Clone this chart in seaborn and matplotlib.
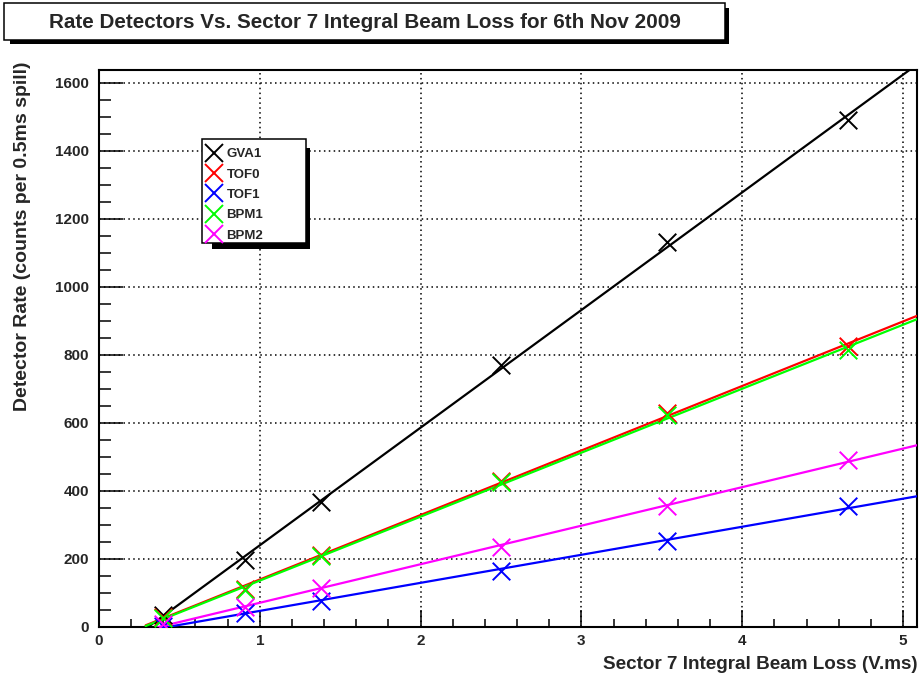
import numpy as np
import pandas as pd
import matplotlib
matplotlib.use("Agg")
import matplotlib.pyplot as plt
import seaborn as sns
from matplotlib.patches import Rectangle
from matplotlib.lines import Line2D
from matplotlib.ticker import MultipleLocator

# ---- data ----
beam_loss = [0.40, 0.91, 1.38, 2.50, 3.53, 4.66]
gva1 = [35, 197, 369, 771, 1133, 1490]
tof0 = [30, 112, 211, 430, 630, 825]
tof1 = [4, 41, 75, 165, 252, 356]
bpm1 = [26, 110, 208, 425, 623, 815]
bpm2 = [9, 59, 114, 235, 356, 491]

detectors = ["GVA1", "TOF0", "TOF1", "BPM1", "BPM2"]
series = [gva1, tof0, tof1, bpm1, bpm2]
colors = ["#000000", "#ff0000", "#0000ff", "#00ff00", "#ff00ff"]

title = "Rate Detectors Vs. Sector 7 Integral Beam Loss for 6th Nov 2009"
xlabel = "Sector 7 Integral Beam Loss (V.ms)"
ylabel = "Detector Rate (counts per 0.5ms spill)"

sns.set_theme(style="ticks")
plt.rcParams["font.family"] = ["Liberation Sans", "DejaVu Sans"]
plt.rcParams["font.weight"] = "bold"

W, H = 923, 681
fig = plt.figure(figsize=(W / 100, H / 100), dpi=100)
fig.patch.set_facecolor("white")
ax = fig.add_axes([99 / W, 1 - 627 / H, (917 - 99) / W, (627 - 70) / H])
ax.set_facecolor("white")

xmin, xmax = 0, 5.087
ymin, ymax = 0, 1638

# long-form tables
pts = pd.DataFrame(
    [(d, x, y) for d, s in zip(detectors, series) for x, y in zip(beam_loss, s)],
    columns=["detector", "loss", "rate"],
)
xfit = np.linspace(0.29, xmax, 60)
fit_rows = []
for d, s in zip(detectors, series):
    k, b = np.polyfit(beam_loss, s, 1)
    for x in xfit:
        fit_rows.append((d, x, k * x + b))
fits = pd.DataFrame(fit_rows, columns=["detector", "loss", "rate"])
palette = dict(zip(detectors, colors))

sns.lineplot(data=fits, x="loss", y="rate", hue="detector", palette=palette,
             hue_order=detectors, linewidth=1.6, legend=False, ax=ax,
             zorder=3, sort=False)
for d in detectors:
    sub = pts[pts.detector == d]
    sns.scatterplot(data=sub, x="loss", y="rate", color=palette[d], marker="x",
                    s=160, linewidth=1.4, legend=False, ax=ax, zorder=4)

ax.set_xlim(xmin, xmax)
ax.set_ylim(ymin, ymax)
ax.xaxis.set_major_locator(MultipleLocator(1))
ax.xaxis.set_minor_locator(MultipleLocator(0.2))
ax.yaxis.set_major_locator(MultipleLocator(200))
ax.yaxis.set_minor_locator(MultipleLocator(50))
ax.tick_params(axis="x", which="major", direction="in", length=12, width=1.1,
               labelsize=11, pad=5, color="black", top=False)
ax.tick_params(axis="x", which="minor", direction="in", length=6, width=1.1,
               top=False, color="black")
ax.tick_params(axis="y", which="major", direction="in", length=17.5, width=1.1,
               labelsize=11, pad=7, color="black", right=False)
ax.tick_params(axis="y", which="minor", direction="in", length=8.8, width=1.1,
               right=False, color="black")
for lab in ax.get_xticklabels() + ax.get_yticklabels():
    lab.set_fontweight("bold")
for sp in ax.spines.values():
    sp.set_visible(True)
    sp.set_linewidth(1.5)
    sp.set_color("black")
ax.grid(True, which="major", color="black", linestyle=(0, (1, 2.2)), linewidth=1.1)

ax.set_xlabel(xlabel, fontsize=13.6, fontweight="bold", loc="right")
ax.xaxis.set_label_coords(1.001, -0.052)
ax.set_ylabel(ylabel, fontsize=14.0, fontweight="bold", loc="top")
ax.yaxis.set_label_coords(-0.083, 1.0144)

# ---- legend with shadowed box ----
def fig_rect(x0, y0, x1, y1, **kw):
    return Rectangle((x0 / W, 1 - y1 / H), (x1 - x0) / W, (y1 - y0) / H,
                     transform=fig.transFigure, clip_on=False, **kw)

ax.add_artist(fig_rect(212, 148, 310, 249, facecolor="black", edgecolor="none", zorder=5))
ax.add_artist(fig_rect(202, 139, 306, 243, facecolor="white", edgecolor="black",
                       linewidth=1.1, zorder=5.1))
handles = [Line2D([], [], color=c, marker="x", linestyle="none", markersize=12.5,
                  markeredgewidth=1.4) for c in colors]
leg = ax.legend(handles, detectors, loc="upper left",
                bbox_to_anchor=(206 / W, 1 - 148 / H), bbox_transform=fig.transFigure,
                frameon=False, fontsize=9.5, borderpad=0, borderaxespad=0,
                handlelength=1.25, handletextpad=0.3, labelspacing=0.62)
leg.set_zorder(6)
for t in leg.get_texts():
    t.set_fontweight("bold")

# ---- title box with shadow ----
fig.add_artist(fig_rect(10, 8, 729, 44, facecolor="black", edgecolor="none", zorder=5))
fig.add_artist(fig_rect(4, 3, 725, 40, facecolor="white", edgecolor="black",
                        linewidth=1.1, zorder=5.1))
fig.text(365 / W, 1 - 22 / H, title, ha="center", va="center", fontsize=14.9,
         fontweight="bold", zorder=6)

fig.savefig("out.png", dpi=100, facecolor="white")
